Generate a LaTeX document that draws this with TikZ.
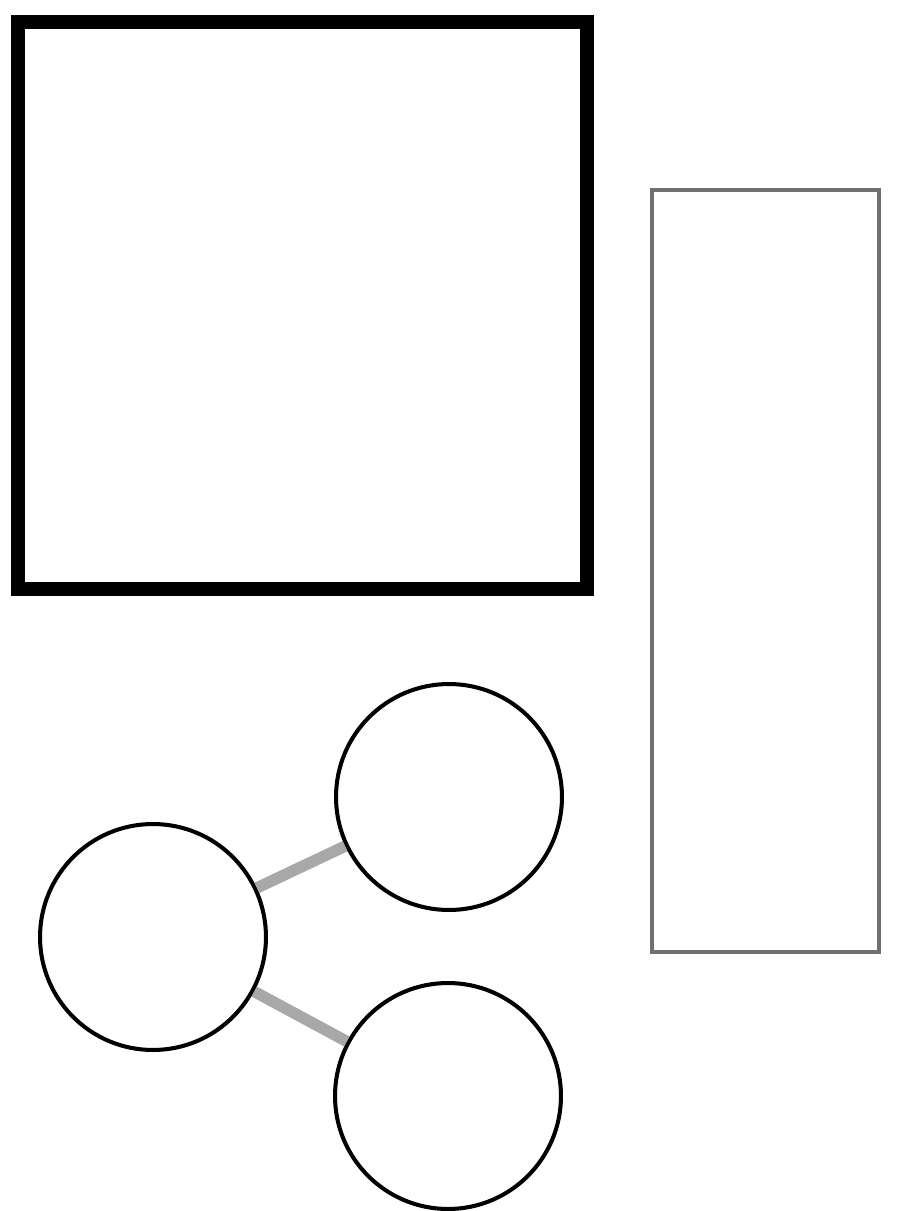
\documentclass[tikz,border=0pt]{standalone}
\usepackage{tikz}
\usepackage{xcolor}

\definecolor{boxgray}{HTML}{707070}
\definecolor{linkgray}{HTML}{A8A8A8}

\begin{document}
\begin{tikzpicture}[x=0.02cm, y=-0.02cm,
        ball/.style={circle, draw=black, line width=2.3pt, inner sep=0pt, minimum size=4.52cm},
        link/.style={line width=6.5pt, linkgray}]
        % Frame of the picture
        \useasboundingbox (0, 0) rectangle (899, 1211);

        % Define corners
        \coordinate (S1) at (18, 22);
        \coordinate (S2) at (587, 589);
        \coordinate (R1) at (652, 190);
        \coordinate (R2) at (879, 952);

        % Draw the square
        \draw[line width=8pt, black, line join=miter] (S1) rectangle (S2);

        % Draw the tall box
        \draw[line width=1.8pt, boxgray] (R1) rectangle (R2);

        % Place the circles
        \node[ball] (C1) at (153, 937) {};
        \node[ball] (C2) at (449, 797) {};
        \node[ball] (C3) at (448, 1096) {};

        % Draw gray links
        \draw[link] (C1) -- (C2);
        \draw[link] (C1) -- (C3);
\end{tikzpicture}
\end{document}
